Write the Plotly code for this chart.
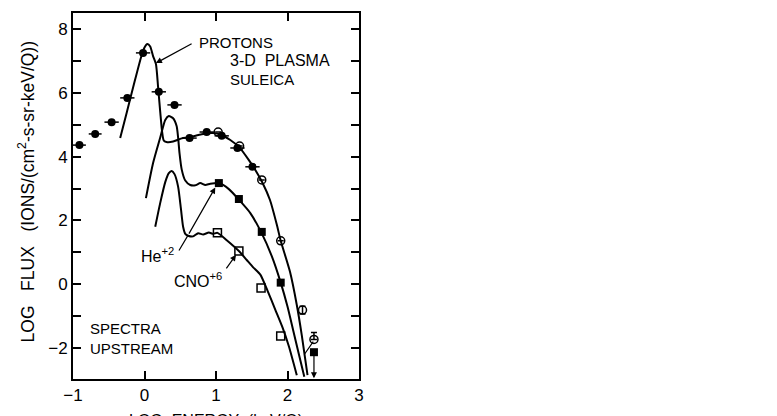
import plotly.graph_objects as go

# filled circles - protons
p_fill_x = [-0.91, -0.69, -0.46, -0.24, -0.02, 0.20, 0.42, 0.63, 0.87, 1.08, 1.30, 1.51]
p_fill_y = [4.36, 4.71, 5.08, 5.84, 7.25, 6.03, 5.62, 4.58, 4.77, 4.65, 4.27, 3.68]
p_fill_dx = [0.09, 0.09, 0.1, 0.1, 0.1, 0.1, 0.1, 0.1, 0.1, 0.1, 0.1, 0.1]

# open circles - protons (second set)
p_open_x = [1.03, 1.33, 1.64, 1.905, 2.21, 2.37]
p_open_y = [4.77, 4.33, 3.27, 1.36, -0.81, -1.73]
p_open_dyp = [0, 0, 0, 0, 0.12, 0.22]
p_open_dym = [0, 0, 0, 0, 0.12, 0]

# filled squares - He+2
he_x = [1.04, 1.32, 1.64, 1.905, 2.37]
he_y = [3.17, 2.67, 1.64, 0.05, -2.13]

# open squares - CNO+6
cno_x = [1.02, 1.32, 1.63, 1.905]
cno_y = [1.61, 1.04, -0.12, -1.62]

# fitted curves
pc_x = [-0.34, -0.25, -0.15, -0.05, 0.0, 0.04, 0.08, 0.12, 0.16, 0.19, 0.22, 0.245, 0.27, 0.32,
        0.40, 0.52, 0.62, 0.80, 0.95, 1.05, 1.20, 1.33, 1.45, 1.55, 1.65, 1.755, 1.85, 1.905,
        2.035, 2.13, 2.20, 2.28]
pc_y = [4.58, 5.37, 6.25, 7.1, 7.42, 7.53, 7.45, 7.15, 6.9, 6.18, 5.4, 4.8, 4.5, 4.45,
        4.47, 4.57, 4.6, 4.7, 4.74, 4.7, 4.52, 4.28, 3.92, 3.58, 3.18, 2.64, 1.87, 1.36,
        0.39, -0.65, -1.6, -2.85]

hc_x = [0.02, 0.12, 0.22, 0.29, 0.34, 0.40, 0.45, 0.47, 0.49, 0.52, 0.57, 0.64, 0.71, 0.78,
        0.85, 0.92, 1.04, 1.18, 1.32, 1.48, 1.63, 1.78, 1.905, 2.0, 2.08, 2.16, 2.235]
hc_y = [2.70, 3.8, 4.6, 5.15, 5.27, 5.2, 4.95, 4.6, 4.1, 3.6, 3.25, 3.11, 3.1, 3.17,
        3.11, 3.15, 3.17, 2.98, 2.65, 2.23, 1.64, 0.88, 0.05, -0.7, -1.45, -2.2, -2.9]

cc_x = [0.15, 0.22, 0.29, 0.34, 0.38, 0.42, 0.47, 0.51, 0.54, 0.57, 0.61, 0.68, 0.75, 0.82,
        0.90, 0.96, 1.02, 1.15, 1.32, 1.43, 1.52, 1.62, 1.72, 1.83, 1.93, 2.02, 2.13]
cc_y = [1.8, 2.55, 3.2, 3.48, 3.55, 3.45, 3.06, 2.35, 1.8, 1.58, 1.52, 1.5, 1.6, 1.56,
        1.62, 1.58, 1.61, 1.38, 1.04, 0.76, 0.53, 0.3, -0.2, -0.8, -1.35, -1.95, -2.85]

x_ticks = [-1, 0, 1, 2, 3]

FONT = "Liberation Sans, Arial, sans-serif"

fig = go.Figure()

for cx, cy in [(pc_x, pc_y), (hc_x, hc_y), (cc_x, cc_y)]:
    fig.add_trace(go.Scatter(x=cx, y=cy, mode="lines",
                             line=dict(color="black", width=2, shape="spline", smoothing=0.6),
                             showlegend=False, hoverinfo="skip"))

fig.add_trace(go.Scatter(x=p_fill_x, y=p_fill_y, mode="markers",
                         marker=dict(symbol="circle", size=8, color="black"),
                         error_x=dict(type="data", array=p_fill_dx, color="black", thickness=1.5, width=0),
                         showlegend=False))
fig.add_trace(go.Scatter(x=p_open_x, y=p_open_y, mode="markers",
                         marker=dict(symbol="circle-open", size=8, color="black", line=dict(width=1.5)),
                         error_y=dict(type="data", symmetric=False, array=p_open_dyp, arrayminus=p_open_dym,
                                      color="black", thickness=1.5, width=3),
                         showlegend=False))
fig.add_trace(go.Scatter(x=he_x, y=he_y, mode="markers",
                         marker=dict(symbol="square", size=8, color="black"),
                         showlegend=False))
fig.add_trace(go.Scatter(x=cno_x, y=cno_y, mode="markers",
                         marker=dict(symbol="square-open", size=8, color="black", line=dict(width=1.5)),
                         showlegend=False))

ann = []
def txt(x, y, s, anchor="left", size=15):
    ann.append(dict(x=x, y=y, xref="x", yref="y", text=s, showarrow=False,
                    xanchor=anchor, yanchor="middle", font=dict(size=size, color="black", family=FONT)))

def arrow(x0, y0, x1, y1, head=2):
    ann.append(dict(x=x1, y=y1, ax=x0, ay=y0, xref="x", yref="y", axref="x", ayref="y",
                    text="", showarrow=True, arrowhead=head, arrowsize=1, arrowwidth=1.2,
                    arrowcolor="black"))

txt(0.73, 7.59, "PROTONS")
txt(1.17, 7.0, "3-D  PLASMA", size=16)
txt(1.17, 6.43, "SULEICA")
txt(0.44, 0.92, "He<sup>+2</sup>", "right", 16)
txt(1.11, 0.12, "CNO<sup>+6</sup>", "right", 16)
txt(-0.79, -1.4, "SPECTRA")
txt(-0.79, -2.0, "UPSTREAM")

arrow(0.68, 7.56, 0.16, 6.93)
arrow(0.47, 1.01, 0.61, 1.54, head=0)
arrow(0.61, 1.54, 0.99, 3.03)
arrow(1.13, 0.45, 1.28, 0.92)
arrow(2.22, -2.25, 2.36, -1.8, head=0)
arrow(2.37, -2.2, 2.37, -2.95)

ann.append(dict(x=0.5, y=-0.085, xref="paper", yref="paper", yanchor="top", xanchor="center",
                text="LOG  ENERGY  (keV/Q)", showarrow=False,
                font=dict(size=16, color="black", family=FONT)))
ann.append(dict(x=-0.165, y=0.512, xref="paper", yref="paper", xanchor="center", yanchor="middle",
                textangle=-90, text="LOG   FLUX   (IONS/(cm<sup>2</sup>-s-sr-keV/Q))", showarrow=False,
                font=dict(size=17.5, color="black", family=FONT)))

axis_common = dict(showline=True, linewidth=2, linecolor="black", mirror="ticks",
                   ticks="inside", ticklen=8, tickwidth=2, tickcolor="black",
                   showgrid=False, zeroline=False, automargin=False,
                   tickfont=dict(size=17, color="black", family=FONT))

# page body adds an 8px offset, so margins are shifted to compensate
fig.update_layout(
    width=777, height=416,
    margin=dict(l=65, r=426, t=5, b=45),
    paper_bgcolor="white", plot_bgcolor="white",
    xaxis=dict(range=[-1, 3], tickvals=x_ticks, **axis_common),
    yaxis=dict(range=[-2.97, 8.5], tick0=0, dtick=2,
               minor=dict(dtick=1, ticks="inside", ticklen=8, tickwidth=2, tickcolor="black", showgrid=False),
               **axis_common),
    annotations=ann,
    showlegend=False,
)

fig.write_html("out.html")
